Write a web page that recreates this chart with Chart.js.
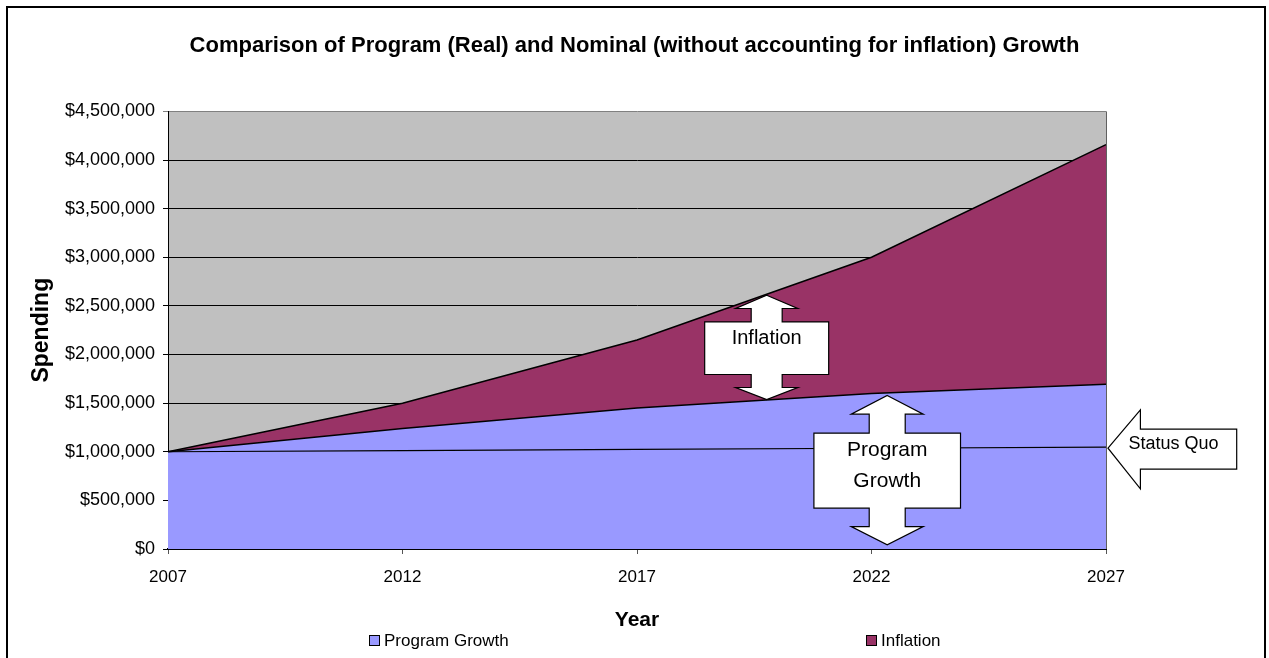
<!DOCTYPE html>
<html>
<head>
<meta charset="utf-8">
<title>Program vs Nominal Growth</title>
<script src="https://cdn.jsdelivr.net/npm/chart.js@4.4.1/dist/chart.umd.min.js"></script>
<style>
 html, body { margin: 0; padding: 0; background: #fff; }
</style>
</head>
<body>
<canvas id="myChart" width="1269" height="658"></canvas>
<script>
// chart values
let years = ['2007', '2012', '2017', '2022', '2027'];
let programGrowth = [1000000, 1240000, 1450000, 1600000, 1695000];
let inflation = [0, 259000, 700000, 1400000, 2463000];
let statusQuo = [1000000, 1012000, 1024000, 1036000, 1047000];
let yMin = 0;
let yMax = 4500000;
let yStep = 500000;

let fontFamily = '"Liberation Sans", Arial, Helvetica, sans-serif';
Chart.defaults.font.family = fontFamily;
Chart.defaults.color = '#000';

// draws the outer frame, the grey plot area, the arrows and the legend
const decor = {
 id: 'decor',
 beforeDraw(chart) {
  const ctx = chart.ctx;
  const a = chart.chartArea;
  ctx.save();
  ctx.fillStyle = '#fff';
  ctx.fillRect(0, 0, chart.width, chart.height);
  ctx.strokeStyle = '#000';
  ctx.lineWidth = 2;
  ctx.strokeRect(7, 7, 1258, 700);
  ctx.fillStyle = '#C0C0C0';
  ctx.fillRect(a.left, a.top, a.right - a.left, a.bottom - a.top);
  ctx.restore();
 },
 afterDatasetsDraw(chart) {
  const ctx = chart.ctx;
  const a = chart.chartArea;
  const x = chart.scales.x;
  const y = chart.scales.y;
  ctx.save();
  // plot area border on the right
  ctx.strokeStyle = '#606060';
  ctx.lineWidth = 1;
  ctx.beginPath();
  ctx.moveTo(a.right + 0.5, a.top);
  ctx.lineTo(a.right + 0.5, a.bottom);
  ctx.stroke();

  // "Inflation" double arrow
  drawDoubleArrow(ctx, x.getPixelForValue(2.553), y.getPixelForValue(2610000),
   { head: 31, shaft: 15.5, box: 62, h1: 13.3, b1: 26.7, b2: 79.3, h2: 92.3, end: 104.3 },
   ['Inflation'], 20, [43]);
  // "Program Growth" double arrow
  drawDoubleArrow(ctx, x.getPixelForValue(3.067), y.getPixelForValue(1578000),
   { head: 36, shaft: 18, box: 73.3, h1: 18.6, b1: 37.6, b2: 112.6, h2: 131, end: 149.3 },
   ['Program', 'Growth'], 21, [55, 86]);
  // "Status Quo" arrow pointing at the end of the line
  drawLeftArrow(ctx, x.getPixelForValue(4) + 2, y.getPixelForValue(statusQuo[statusQuo.length - 1]) + 1);
  ctx.restore();
 },
 afterDraw(chart) {
  // legend, Excel style: two items spread apart
  const ctx = chart.ctx;
  const spots = [369, 866];
  ctx.save();
  ctx.font = '17px ' + fontFamily;
  ctx.textBaseline = 'middle';
  ctx.textAlign = 'left';
  let k = 0;
  chart.data.datasets.forEach(function(ds) {
   if (!ds.inLegend) return;
   const bx = spots[k];
   const by = 641;
   ctx.fillStyle = ds.backgroundColor;
   ctx.fillRect(bx + 0.5, by - 5.5, 10, 10);
   ctx.strokeStyle = '#000';
   ctx.lineWidth = 1;
   ctx.strokeRect(bx + 0.5, by - 5.5, 10, 10);
   ctx.fillStyle = '#000';
   ctx.fillText(ds.label, bx + 15, by);
   k++;
  });
  ctx.restore();
 }
};

function drawDoubleArrow(ctx, cx, t, d, lines, size, offs) {
 ctx.beginPath();
 ctx.moveTo(cx, t);
 ctx.lineTo(cx + d.head, t + d.h1);
 ctx.lineTo(cx + d.shaft, t + d.h1);
 ctx.lineTo(cx + d.shaft, t + d.b1);
 ctx.lineTo(cx + d.box, t + d.b1);
 ctx.lineTo(cx + d.box, t + d.b2);
 ctx.lineTo(cx + d.shaft, t + d.b2);
 ctx.lineTo(cx + d.shaft, t + d.h2);
 ctx.lineTo(cx + d.head, t + d.h2);
 ctx.lineTo(cx, t + d.end);
 ctx.lineTo(cx - d.head, t + d.h2);
 ctx.lineTo(cx - d.shaft, t + d.h2);
 ctx.lineTo(cx - d.shaft, t + d.b2);
 ctx.lineTo(cx - d.box, t + d.b2);
 ctx.lineTo(cx - d.box, t + d.b1);
 ctx.lineTo(cx - d.shaft, t + d.b1);
 ctx.lineTo(cx - d.shaft, t + d.h1);
 ctx.lineTo(cx - d.head, t + d.h1);
 ctx.closePath();
 ctx.fillStyle = '#fff';
 ctx.fill();
 ctx.strokeStyle = '#000';
 ctx.lineWidth = 1.2;
 ctx.stroke();
 ctx.fillStyle = '#000';
 ctx.font = size + 'px ' + fontFamily;
 ctx.textAlign = 'center';
 ctx.textBaseline = 'middle';
 for (let i = 0; i < lines.length; i++) {
  ctx.fillText(lines[i], cx, t + offs[i]);
 }
}

function drawLeftArrow(ctx, tx, ty) {
 ctx.beginPath();
 ctx.moveTo(tx, ty);
 ctx.lineTo(tx + 32.4, ty - 38.3);
 ctx.lineTo(tx + 32.4, ty - 19);
 ctx.lineTo(tx + 128.7, ty - 19);
 ctx.lineTo(tx + 128.7, ty + 21);
 ctx.lineTo(tx + 32.4, ty + 21);
 ctx.lineTo(tx + 32.4, ty + 40.7);
 ctx.closePath();
 ctx.fillStyle = '#fff';
 ctx.fill();
 ctx.strokeStyle = '#000';
 ctx.lineWidth = 1.2;
 ctx.stroke();
 ctx.fillStyle = '#000';
 ctx.font = '18px ' + fontFamily;
 ctx.textAlign = 'center';
 ctx.textBaseline = 'middle';
 ctx.fillText('Status Quo', tx + 65.5, ty - 4);
}

var ctx = document.getElementById('myChart').getContext('2d');
var myChart = new Chart(ctx, {
 type: 'line',
 data: {
  labels: years,
  datasets: [{
   label: 'Program Growth',
   data: programGrowth,
   backgroundColor: '#9999FF',
   borderColor: '#000',
   borderWidth: 1.5,
   fill: 'origin',
   pointRadius: 0,
   order: 1,
   stack: 'spend',
   inLegend: true
  }, {
   label: 'Inflation',
   data: inflation,
   backgroundColor: '#993366',
   borderColor: '#000',
   borderWidth: 1.5,
   fill: '-1',
   pointRadius: 0,
   order: 1,
   stack: 'spend',
   inLegend: true
  }, {
   label: 'Status Quo',
   data: statusQuo,
   borderColor: '#000',
   borderWidth: 1.2,
   fill: false,
   pointRadius: 0,
   order: 0,
   stack: 'quo',
   inLegend: false
  }]
 },
 options: {
  responsive: false,
  animation: false,
  layout: { padding: { left: 0, right: 0, top: 0, bottom: 24 } },
  plugins: {
   legend: { display: false },
   tooltip: { enabled: false },
   title: {
    display: true,
    text: 'Comparison of Program (Real) and Nominal (without accounting for inflation) Growth',
    color: '#000',
    font: { size: 22, weight: 'bold' },
    padding: { top: 33, bottom: 52 }
   }
  },
  scales: {
   x: {
    offset: false,
    grid: { drawOnChartArea: false, drawTicks: true, tickLength: 5, color: '#555' },
    border: { color: '#000', width: 2 },
    ticks: { font: { size: 17 }, padding: 13, maxRotation: 0, autoSkip: false },
    title: { display: true, text: 'Year', font: { size: 21, weight: 'bold' }, padding: { top: 0, bottom: 1 } },
    afterFit: function(s) { s.height = 85; }
   },
   y: {
    stacked: true,
    min: yMin,
    max: yMax,
    ticks: {
     stepSize: yStep,
     font: { size: 18 },
     padding: 8,
     callback: function(v) { return '$' + v.toLocaleString('en-US'); }
    },
    grid: {
     tickLength: 5,
     color: function(c) { return c.tick && c.tick.value === yMax ? '#808080' : '#000'; }
    },
    border: { color: '#000', width: 1 },
    title: { display: true, text: 'Spending', font: { size: 23, weight: 'bold' }, padding: { top: 28, bottom: 0 } },
    afterFit: function(s) { s.width = 168; }
   },
   // empty right-hand axis that only keeps room for the "Status Quo" callout
   side: {
    type: 'linear',
    position: 'right',
    display: true,
    grid: { display: false },
    border: { display: false },
    ticks: { display: false },
    afterFit: function(s) { s.width = 163; }
   }
  }
 },
 plugins: [decor]
});
</script>
</body>
</html>
